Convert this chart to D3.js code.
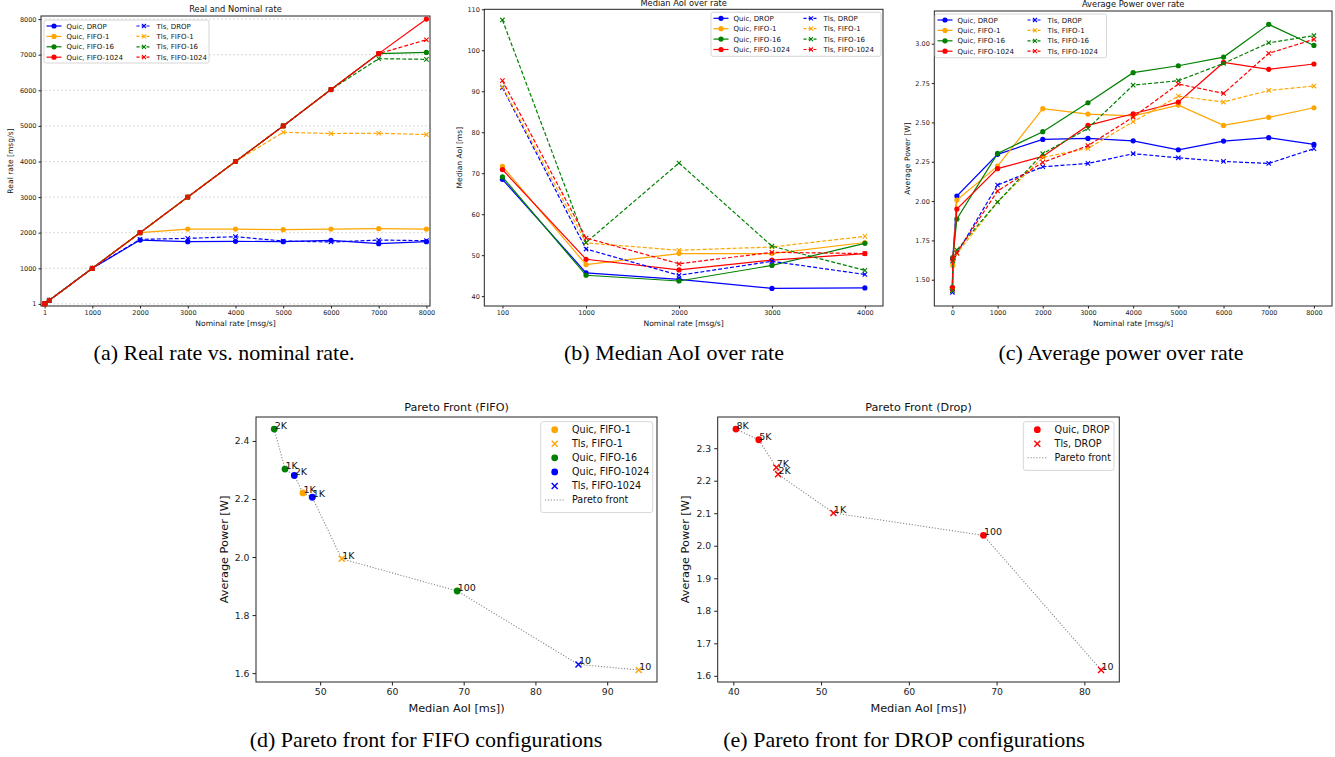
<!DOCTYPE html>
<html>
<head>
<meta charset="utf-8">
<script src="https://cdn.jsdelivr.net/npm/d3@7"></script>
<style>
  body { margin: 0; background: #fff; }
  svg { display: block; font-family: 'DejaVu Sans', sans-serif; }
  .caption { font-family: 'Liberation Serif', 'Times New Roman', serif; font-size: 22px; fill: #000; }
</style>
</head>
<body>
<svg id="fig" width="1335" height="757"></svg>
<script>
// Nominal rates [msg/s]
const rates = [1, 10, 100, 1000, 2000, 3000, 4000, 5000, 6000, 7000, 8000];
const aoiRates = [100, 1000, 2000, 3000, 4000];
const modes = ['DROP', 'FIFO-1', 'FIFO-16', 'FIFO-1024'];
const modeColors = ['blue', 'orange', 'green', 'red'];

// (a) Real rate [msg/s]
const realQuicDrop = [1, 10, 100, 1000, 1794, 1748, 1757, 1748, 1785, 1692, 1748];
const realQuicFifo1 = [1, 10, 100, 1000, 2000, 2103, 2103, 2084, 2103, 2112, 2103];
const realQuicFifo16 = [1, 10, 100, 1000, 2000, 3000, 4000, 5000, 6020, 7030, 7065];
const realQuicFifo1024 = [1, 10, 100, 1000, 2000, 3000, 4000, 5000, 6020, 7030, 8000];
const realTlsDrop = [1, 10, 100, 1000, 1813, 1841, 1888, 1766, 1738, 1794, 1776];
const realTlsFifo1 = [1, 10, 100, 1000, 2000, 3000, 4000, 4822, 4785, 4794, 4757];
const realTlsFifo16 = [1, 10, 100, 1000, 2000, 3000, 4000, 5000, 6020, 6888, 6870];
const realTlsFifo1024 = [1, 10, 100, 1000, 2000, 3000, 4000, 5000, 6020, 7030, 7420];

// (b) Median AoI [ms]
const aoiQuicDrop = [68.5, 45.7, 44.1, 41.9, 42.0];
const aoiQuicFifo1 = [71.7, 47.7, 50.4, 50.4, 53.1];
const aoiQuicFifo16 = [69.1, 45.1, 43.7, 47.5, 52.9];
const aoiQuicFifo1024 = [70.9, 49.0, 46.4, 48.8, 50.4];
const aoiTlsDrop = [90.9, 51.5, 45.1, 48.5, 45.3];
const aoiTlsFifo1 = [91.1, 53.0, 51.2, 52.0, 54.6];
const aoiTlsFifo16 = [107.4, 53.1, 72.5, 52.2, 46.3];
const aoiTlsFifo1024 = [92.6, 54.2, 47.9, 50.7, 50.4];

// (c) Average power [W]
const powQuicDrop = [1.45, 1.635, 2.032, 2.297, 2.392, 2.398, 2.383, 2.326, 2.381, 2.403, 2.360];
const powQuicFifo1 = [1.45, 1.59, 2.006, 2.222, 2.587, 2.553, 2.542, 2.610, 2.481, 2.532, 2.593];
const powQuicFifo16 = [1.44, 1.64, 1.886, 2.303, 2.441, 2.625, 2.816, 2.860, 2.915, 3.123, 2.989];
const powQuicFifo1024 = [1.45, 1.63, 1.949, 2.206, 2.284, 2.481, 2.555, 2.629, 2.881, 2.837, 2.871];
const powTlsDrop = [1.42, 1.618, 1.667, 2.102, 2.218, 2.239, 2.301, 2.275, 2.252, 2.239, 2.333];
const powTlsFifo1 = [1.43, 1.611, 1.667, 1.994, 2.278, 2.335, 2.504, 2.667, 2.629, 2.703, 2.731];
const powTlsFifo16 = [1.43, 1.62, 1.689, 1.994, 2.301, 2.462, 2.737, 2.765, 2.875, 3.006, 3.051];
const powTlsFifo1024 = [1.44, 1.63, 1.672, 2.064, 2.246, 2.352, 2.534, 2.744, 2.684, 2.939, 3.028];

// (d) Pareto points FIFO: [median AoI, power, rate label]
const pfQuicFifo1 = [[47.6, 2.221, '1K']];
const pfTlsFifo1 = [[53.0, 1.994, '1K'], [94.4, 1.611, '10']];
const pfQuicFifo16 = [[43.6, 2.441, '2K'], [45.1, 2.303, '1K'], [69.1, 1.883, '100']];
const pfQuicFifo1024 = [[46.4, 2.281, '2K'], [48.9, 2.206, '1K']];
const pfTlsFifo1024 = [[86.0, 1.630, '10']];

// (e) Pareto points DROP
const pdQuicDrop = [[40.3, 2.359, '8K'], [42.9, 2.326, '5K'], [68.5, 2.032, '100']];
const pdTlsDrop = [[44.9, 2.241, '7K'], [45.1, 2.220, '2K'], [51.4, 2.101, '1K'], [81.9, 1.618, '10']];

// Tick values
const ticksA = [1, 1000, 2000, 3000, 4000, 5000, 6000, 7000, 8000];
const ticksBx = [100, 1000, 2000, 3000, 4000];
const ticksBy = [40, 50, 60, 70, 80, 90, 100, 110];
const ticksCx = [0, 1000, 2000, 3000, 4000, 5000, 6000, 7000, 8000];
const ticksCy = [1.5, 1.75, 2.0, 2.25, 2.5, 2.75, 3.0];
const ticksDx = [50, 60, 70, 80, 90];
const ticksDy = [1.6, 1.8, 2.0, 2.2, 2.4];
const ticksEx = [40, 50, 60, 70, 80];
const ticksEy = [1.6, 1.7, 1.8, 1.9, 2.0, 2.1, 2.2, 2.3];

const svg = d3.select('#fig');

// Generic axes box: scales, ticks, frame, title and labels
function makePanel(p) {
  const g = svg.append('g');
  const x = d3.scaleLinear().domain(p.xDomain).range([p.l, p.r]);
  const y = d3.scaleLinear().domain(p.yDomain).range([p.b, p.t]);

  if (p.grid) {
    g.selectAll('.grid')
      .data(p.yTicks)
      .enter()
      .append('line')
      .attr('x1', p.l).attr('x2', p.r)
      .attr('y1', d => y(d)).attr('y2', d => y(d))
      .attr('stroke', '#d0d0d0')
      .attr('stroke-width', 0.8)
      .attr('stroke-dasharray', '2,2');
  }

  const xAxis = d3.axisBottom(x)
    .tickValues(p.xTicks)
    .tickFormat(p.xFmt)
    .tickSize(p.tick)
    .tickPadding(p.pad)
    .tickSizeOuter(0);
  const yAxis = d3.axisLeft(y)
    .tickValues(p.yTicks)
    .tickFormat(p.yFmt)
    .tickSize(p.tick)
    .tickPadding(p.pad)
    .tickSizeOuter(0);

  const gx = g.append('g')
    .attr('transform', 'translate(0,' + p.b + ')')
    .call(xAxis);
  const gy = g.append('g')
    .attr('transform', 'translate(' + p.l + ',0)')
    .call(yAxis);
  [gx, gy].forEach(a => {
    a.select('.domain').remove();
    a.selectAll('line').attr('stroke', '#222');
    a.selectAll('text')
      .attr('fill', '#222')
      .style('font-family', 'DejaVu Sans')
      .style('font-size', p.tickFont + 'px');
  });

  // Frame
  g.append('rect')
    .attr('x', p.l).attr('y', p.t)
    .attr('width', p.r - p.l).attr('height', p.b - p.t)
    .attr('fill', 'none')
    .attr('stroke', '#222')
    .attr('stroke-width', 1);

  // Title and axis labels
  g.append('text')
    .attr('x', (p.l + p.r) / 2).attr('y', p.titleY)
    .attr('text-anchor', 'middle')
    .attr('fill', '#111')
    .style('font-size', p.titleFont + 'px')
    .text(p.title);
  g.append('text')
    .attr('x', (p.l + p.r) / 2).attr('y', p.xLabelY)
    .attr('text-anchor', 'middle')
    .attr('fill', '#111')
    .style('font-size', p.labelFont + 'px')
    .text(p.xLabel);
  g.append('text')
    .attr('transform', 'translate(' + p.yLabelX + ',' + (p.t + p.b) / 2 + ') rotate(-90)')
    .attr('text-anchor', 'middle')
    .attr('dominant-baseline', 'central')
    .attr('fill', '#111')
    .style('font-size', p.labelFont + 'px')
    .text(p.yLabel);

  return { g: g, x: x, y: y };
}

function crossPath(s) {
  return 'M' + (-s) + ',' + (-s) + 'L' + s + ',' + s + 'M' + (-s) + ',' + s + 'L' + s + ',' + (-s);
}

// One line series with markers
function drawSeries(panel, xs, ys, color, tls) {
  const pts = xs.map((v, i) => [panel.x(v), panel.y(ys[i])]);
  panel.g.append('path')
    .attr('d', d3.line()(pts))
    .attr('fill', 'none')
    .attr('stroke', color)
    .attr('stroke-width', 1.2)
    .attr('stroke-dasharray', tls ? '4,2' : null);
  if (tls) {
    panel.g.selectAll(null)
      .data(pts)
      .enter()
      .append('path')
      .attr('transform', d => 'translate(' + d[0] + ',' + d[1] + ')')
      .attr('d', crossPath(2.2))
      .attr('stroke', color)
      .attr('stroke-width', 1.1);
  } else {
    panel.g.selectAll(null)
      .data(pts)
      .enter()
      .append('circle')
      .attr('cx', d => d[0])
      .attr('cy', d => d[1])
      .attr('r', 2.6)
      .attr('fill', color);
  }
}

// Two-column legend for the rate plots
function rateLegend(panel, x0, y0, w, h) {
  const lg = panel.g.append('g');
  lg.append('rect')
    .attr('x', x0).attr('y', y0).attr('width', w).attr('height', h)
    .attr('rx', 2)
    .attr('fill', 'white').attr('fill-opacity', 0.85)
    .attr('stroke', '#cccccc').attr('stroke-width', 0.8);
  ['Quic', 'Tls'].forEach((proto, c) => {
    modes.forEach((m, r) => {
      const hx = x0 + 2.5 + c * 90;
      const hy = y0 + 6 + r * 10.4;
      const color = modeColors[r];
      lg.append('line')
        .attr('x1', hx).attr('x2', hx + 15)
        .attr('y1', hy).attr('y2', hy)
        .attr('stroke', color).attr('stroke-width', 1.2)
        .attr('stroke-dasharray', c ? '3,2' : null);
      if (c) {
        lg.append('path')
          .attr('transform', 'translate(' + (hx + 7.5) + ',' + hy + ')')
          .attr('d', crossPath(2))
          .attr('stroke', color).attr('stroke-width', 1.1);
      } else {
        lg.append('circle')
          .attr('cx', hx + 7.5).attr('cy', hy).attr('r', 2.6)
          .attr('fill', color);
      }
      lg.append('text')
        .attr('x', hx + 20).attr('y', hy + 2.5)
        .attr('fill', '#111')
        .style('font-size', '7px')
        .text(proto + ', ' + m);
    });
  });
}

const smallFonts = { tick: 2.5, pad: 2, tickFont: 6.5, titleFont: 8.3, labelFont: 7.6 };
const bigFonts = { tick: 3.5, pad: 3, tickFont: 9.3, titleFont: 11.2, labelFont: 11.3 };

// (a) Real and nominal rate
const pa = makePanel(Object.assign({
  l: 41, r: 430, t: 16, b: 306,
  xDomain: [-75, 8075], yDomain: [-59, 8087],
  xTicks: ticksA, yTicks: ticksA, xFmt: d3.format('d'), yFmt: d3.format('d'),
  grid: true,
  title: 'Real and Nominal rate', titleY: 12,
  xLabel: 'Nominal rate [msg/s]', xLabelY: 326,
  yLabel: 'Real rate [msg/s]', yLabelX: 10.5
}, smallFonts));
[realQuicDrop, realQuicFifo1, realQuicFifo16, realQuicFifo1024].forEach((s, i) => drawSeries(pa, rates, s, modeColors[i], false));
[realTlsDrop, realTlsFifo1, realTlsFifo16, realTlsFifo1024].forEach((s, i) => drawSeries(pa, rates, s, modeColors[i], true));
rateLegend(pa, 44, 20, 165, 43);

// (b) Median AoI over rate
const pb = makePanel(Object.assign({
  l: 484.3, r: 883, t: 9.3, b: 306,
  xDomain: [-95, 4195], yDomain: [37.6, 110],
  xTicks: ticksBx, yTicks: ticksBy, xFmt: d3.format('d'), yFmt: d3.format('d'),
  grid: false,
  title: 'Median AoI over rate', titleY: 5.5,
  xLabel: 'Nominal rate [msg/s]', xLabelY: 326,
  yLabel: 'Median AoI [ms]', yLabelX: 459
}, smallFonts));
[aoiQuicDrop, aoiQuicFifo1, aoiQuicFifo16, aoiQuicFifo1024].forEach((s, i) => drawSeries(pb, aoiRates, s, modeColors[i], false));
[aoiTlsDrop, aoiTlsFifo1, aoiTlsFifo16, aoiTlsFifo1024].forEach((s, i) => drawSeries(pb, aoiRates, s, modeColors[i], true));
rateLegend(pb, 711, 12.3, 170, 44);

// (c) Average power over rate
const pc = makePanel(Object.assign({
  l: 934.3, r: 1332, t: 11, b: 306,
  xDomain: [-400, 8400], yDomain: [1.333, 3.208],
  xTicks: ticksCx, yTicks: ticksCy, xFmt: d3.format('d'), yFmt: d3.format('.2f'),
  grid: false,
  title: 'Average Power over rate', titleY: 7,
  xLabel: 'Nominal rate [msg/s]', xLabelY: 326,
  yLabel: 'Average Power [W]', yLabelX: 907
}, smallFonts));
[powQuicDrop, powQuicFifo1, powQuicFifo16, powQuicFifo1024].forEach((s, i) => drawSeries(pc, rates, s, modeColors[i], false));
[powTlsDrop, powTlsFifo1, powTlsFifo16, powTlsFifo1024].forEach((s, i) => drawSeries(pc, rates, s, modeColors[i], true));
rateLegend(pc, 935, 14, 171.5, 43.7);

// Pareto scatter with dotted front and rate labels
function paretoPanel(p, groups, lg) {
  const panel = makePanel(Object.assign(p, bigFonts));
  const all = [].concat(...groups.map(gr => gr.pts)).sort((a, b) => a[0] - b[0]);
  panel.g.append('path')
    .attr('d', d3.line().x(d => panel.x(d[0])).y(d => panel.y(d[1]))(all))
    .attr('fill', 'none')
    .attr('stroke', 'gray')
    .attr('stroke-width', 1.1)
    .attr('stroke-dasharray', '1.1,1.8');
  groups.forEach(gr => {
    gr.pts.forEach(d => {
      const px = panel.x(d[0]);
      const py = panel.y(d[1]);
      if (gr.tls) {
        panel.g.append('path')
          .attr('transform', 'translate(' + px + ',' + py + ')')
          .attr('d', crossPath(3))
          .attr('stroke', gr.color).attr('stroke-width', 1.4);
      } else {
        panel.g.append('circle')
          .attr('cx', px).attr('cy', py).attr('r', 3.4)
          .attr('fill', gr.color);
      }
    });
  });
  groups.forEach(gr => {
    gr.pts.forEach(d => {
      panel.g.append('text')
        .attr('x', panel.x(d[0]) + 0.5).attr('y', panel.y(d[1]))
        .attr('fill', '#111')
        .style('font-size', '9.5px')
        .text(d[2]);
    });
  });

  // Legend
  const items = groups.concat([{ name: 'Pareto front', front: true }]);
  const lgG = panel.g.append('g');
  lgG.append('rect')
    .attr('x', lg.x).attr('y', lg.y).attr('width', lg.w).attr('height', 8 + items.length * 14.06 - 1.5)
    .attr('rx', 2.5)
    .attr('fill', 'white').attr('fill-opacity', 0.85)
    .attr('stroke', '#cccccc').attr('stroke-width', 0.8);
  items.forEach((it, i) => {
    const cy = lg.y + 8 + i * 14.06;
    if (it.front) {
      lgG.append('line')
        .attr('x1', lg.x + 4.4).attr('x2', lg.x + 24)
        .attr('y1', cy).attr('y2', cy)
        .attr('stroke', 'gray').attr('stroke-width', 1.1)
        .attr('stroke-dasharray', '1.1,1.8');
    } else if (it.tls) {
      lgG.append('path')
        .attr('transform', 'translate(' + (lg.x + 14) + ',' + cy + ')')
        .attr('d', crossPath(3))
        .attr('stroke', it.color).attr('stroke-width', 1.4);
    } else {
      lgG.append('circle')
        .attr('cx', lg.x + 14).attr('cy', cy).attr('r', 3.4)
        .attr('fill', it.color);
    }
    lgG.append('text')
      .attr('x', lg.x + 31.3).attr('y', cy + 3.4)
      .attr('fill', '#111')
      .style('font-size', '9.6px')
      .text(it.name);
  });
}

// (d) Pareto front FIFO
paretoPanel({
  l: 256, r: 657, t: 417, b: 682,
  xDomain: [41.06, 96.94], yDomain: [1.5695, 2.4825],
  xTicks: ticksDx, yTicks: ticksDy, xFmt: d3.format('d'), yFmt: d3.format('.1f'),
  grid: false,
  title: 'Pareto Front (FIFO)', titleY: 411,
  xLabel: 'Median AoI [ms])', xLabelY: 711.5,
  yLabel: 'Average Power [W]', yLabelX: 224
}, [
  { name: 'Quic, FIFO-1', color: 'orange', tls: false, pts: pfQuicFifo1 },
  { name: 'Tls, FIFO-1', color: 'orange', tls: true, pts: pfTlsFifo1 },
  { name: 'Quic, FIFO-16', color: 'green', tls: false, pts: pfQuicFifo16 },
  { name: 'Quic, FIFO-1024', color: 'blue', tls: false, pts: pfQuicFifo1024 },
  { name: 'Tls, FIFO-1024', color: 'blue', tls: true, pts: pfTlsFifo1024 }
], { x: 540.7, y: 421.7, w: 112 });

// (e) Pareto front DROP
paretoPanel({
  l: 717.7, r: 1119.3, t: 417, b: 682,
  xDomain: [38.22, 83.98], yDomain: [1.581, 2.396],
  xTicks: ticksEx, yTicks: ticksEy, xFmt: d3.format('d'), yFmt: d3.format('.1f'),
  grid: false,
  title: 'Pareto Front (Drop)', titleY: 411,
  xLabel: 'Median AoI [ms])', xLabelY: 711.5,
  yLabel: 'Average Power [W]', yLabelX: 685.7
}, [
  { name: 'Quic, DROP', color: 'red', tls: false, pts: pdQuicDrop },
  { name: 'Tls, DROP', color: 'red', tls: true, pts: pdTlsDrop }
], { x: 1023.3, y: 421.7, w: 90.7 });

// Sub-figure captions
const captions = [
  ['(a) Real rate vs. nominal rate.', 224, 360],
  ['(b) Median AoI over rate', 674, 360],
  ['(c) Average power over rate', 1121, 360],
  ['(d) Pareto front for FIFO configurations', 426, 747],
  ['(e) Pareto front for DROP configurations', 904, 747]
];
svg.selectAll('.caption')
  .data(captions)
  .enter()
  .append('text')
  .attr('class', 'caption')
  .attr('x', d => d[1])
  .attr('y', d => d[2])
  .attr('text-anchor', 'middle')
  .text(d => d[0]);
</script>
</body>
</html>
